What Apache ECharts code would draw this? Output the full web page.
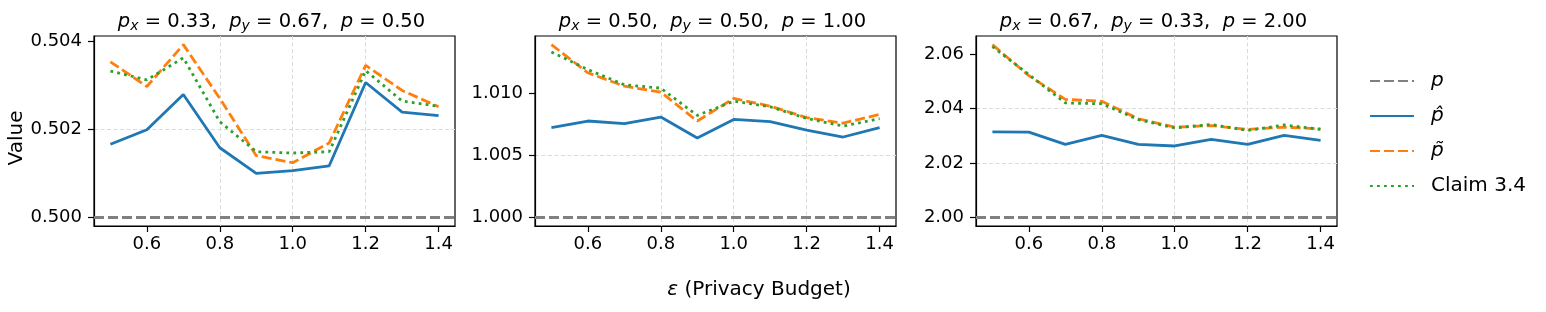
<!DOCTYPE html>
<html><head><meta charset="utf-8">
<script src="https://cdn.jsdelivr.net/npm/echarts@6/dist/echarts.min.js"></script>
<style>html,body{margin:0;padding:0;background:#fff}#c{width:1546px;height:312px}</style>
</head><body><div id="c"></div>
<script>
// ---- data ----
const epsilons = [0.5, 0.6, 0.7, 0.8, 0.9, 1.0, 1.1, 1.2, 1.3, 1.4];
const xTicks = [0.6, 0.8, 1.0, 1.2, 1.4];

const pxVals = ['0.33', '0.50', '0.67'];
const pyVals = ['0.67', '0.50', '0.33'];
const pTrue = [0.50, 1.00, 2.00];

const pHat1   = [0.50166, 0.50199, 0.50279, 0.50158, 0.50100, 0.50106, 0.50117, 0.50306, 0.50239, 0.50231];
const pTilde1 = [0.50353, 0.50297, 0.50392, 0.50270, 0.50140, 0.50124, 0.50169, 0.50345, 0.50288, 0.50251];
const claim1  = [0.50332, 0.50312, 0.50362, 0.50217, 0.50149, 0.50146, 0.50149, 0.50333, 0.50264, 0.50252];

const pHat2   = [1.00723, 1.00777, 1.00756, 1.00809, 1.00640, 1.00790, 1.00772, 1.00704, 1.00648, 1.00723];
const pTilde2 = [1.01393, 1.01166, 1.01058, 1.01010, 1.00777, 1.00959, 1.00897, 1.00804, 1.00760, 1.00830];
const claim2  = [1.01334, 1.01192, 1.01069, 1.01042, 1.00822, 1.00937, 1.00892, 1.00798, 1.00736, 1.00796];

const pHat3   = [2.0314, 2.0313, 2.0268, 2.0301, 2.0268, 2.0262, 2.0286, 2.0268, 2.0301, 2.0283];
const pTilde3 = [2.0634, 2.0520, 2.0433, 2.0426, 2.0362, 2.0331, 2.0337, 2.0323, 2.0331, 2.0325];
const claim3  = [2.0627, 2.0524, 2.0420, 2.0417, 2.0359, 2.0328, 2.0341, 2.0319, 2.0339, 2.0323];

const yTicks1 = [0.500, 0.502, 0.504];
const yTicks2 = [1.000, 1.005, 1.010];
const yTicks3 = [2.00, 2.02, 2.04, 2.06];
const yDecimals = [3, 3, 2];
const yIntervals = [0.002, 0.005, 0.02];

const seriesNames = ['p', 'p\u0302', 'p\u0303', 'Claim 3.4'];
// ---- end data ----

const FONT = 'DejaVu Sans';
const LW = 2.8;
const panels = [
  {hat: pHat1, tilde: pTilde1, claim: claim1, ticks: yTicks1},
  {hat: pHat2, tilde: pTilde2, claim: claim2, ticks: yTicks2},
  {hat: pHat3, tilde: pTilde3, claim: claim3, ticks: yTicks3}
];
const gridLefts = [94, 535, 976];
const gridW = 361, gridTop = 36, gridH = 190;

function pairs(arr) { return epsilons.map((e, i) => [e, arr[i]]); }
function extent(list) {
  let mn = Infinity, mx = -Infinity;
  list.forEach(a => a.forEach(v => { mn = Math.min(mn, v); mx = Math.max(mx, v); }));
  const r = mx - mn;
  return [mn - 0.05 * r, mx + 0.05 * r];
}
const xr = extent([epsilons]);

const grid = [], xAxis = [], yAxis = [], series = [], titles = [];
const gridLine = {show: true, showMinLine: false, showMaxLine: false, lineStyle: {color: '#dadada', width: 1, type: [4, 2.5]}};

panels.forEach((pn, k) => {
  grid.push({left: gridLefts[k], top: gridTop, width: gridW, height: gridH, show: true,
    borderColor: '#000', borderWidth: 1.2, backgroundColor: 'transparent'});
  xAxis.push({type: 'value', gridIndex: k, min: xr[0], max: xr[1], minInterval: 0.2, maxInterval: 0.2,
    axisLine: {show: true, onZero: false, lineStyle: {color: '#000', width: 1.2}},
    axisTick: {show: true, length: 6, customValues: xTicks, lineStyle: {color: '#000', width: 1.2}},
    axisLabel: {customValues: xTicks, formatter: v => v.toFixed(1), color: '#000', fontSize: 18, fontFamily: FONT, margin: 9},
    splitLine: gridLine});
  const yr = extent([pn.hat, pn.tilde, pn.claim, [pTrue[k]]]);
  yAxis.push({type: 'value', gridIndex: k, min: yr[0], max: yr[1],
    minInterval: yIntervals[k], maxInterval: yIntervals[k],
    axisLine: {show: true, onZero: false, lineStyle: {color: '#000', width: 1.2}},
    axisTick: {show: true, length: 6, customValues: pn.ticks, lineStyle: {color: '#000', width: 1.2}},
    axisLabel: {customValues: pn.ticks, formatter: v => v.toFixed(yDecimals[k]), color: '#000', fontSize: 18, fontFamily: FONT, margin: 12},
    splitLine: gridLine,
    name: k === 0 ? 'Value' : '', nameLocation: 'middle', nameGap: 66, nameRotate: 90,
    nameTextStyle: {fontSize: 20, fontFamily: FONT, color: '#000', padding: [0, 14, 0, 0]}});

  series.push({name: seriesNames[0], type: 'line', xAxisIndex: k, yAxisIndex: k, data: [], symbol: 'none',
    color: '#808080', lineStyle: {color: '#808080', width: LW, type: [10, 4]},
    markLine: {silent: true, symbol: ['none', 'none'], label: {show: false},
      lineStyle: {color: '#808080', width: LW, type: [10, 4]}, data: [{yAxis: pTrue[k]}]}});
  series.push({name: seriesNames[1], type: 'line', xAxisIndex: k, yAxisIndex: k, data: pairs(pn.hat), symbol: 'none',
    color: '#1f77b4', lineStyle: {color: '#1f77b4', width: LW}});
  series.push({name: seriesNames[2], type: 'line', xAxisIndex: k, yAxisIndex: k, data: pairs(pn.tilde), symbol: 'none',
    color: '#ff7f0e', lineStyle: {color: '#ff7f0e', width: LW, type: [10, 4]}});
  series.push({name: seriesNames[3], type: 'line', xAxisIndex: k, yAxisIndex: k, data: pairs(pn.claim), symbol: 'none',
    color: '#2ca02c', lineStyle: {color: '#2ca02c', width: LW, type: [2.8, 4.2]}});

  titles.push({
    text: '{i|p}{s|x}{n| = ' + pxVals[k] + ',  }{i|p}{s|y}{n| = ' + pyVals[k] + ',  }{i|p}{n| = ' + pTrue[k].toFixed(2) + '}',
    left: gridLefts[k] + gridW / 2 - 3, top: 11, textAlign: 'center', padding: 0,
    textStyle: {fontWeight: 'normal', rich: {
      i: {fontFamily: FONT, fontStyle: 'italic', fontWeight: 'normal', fontSize: 19.5, lineHeight: 22, color: '#000'},
      n: {fontFamily: FONT, fontWeight: 'normal', fontSize: 19.5, lineHeight: 22, color: '#000'},
      s: {fontFamily: FONT, fontStyle: 'italic', fontWeight: 'normal', fontSize: 14, lineHeight: 14, padding: [9, 0, 0, 0], color: '#000'}
    }}
  });
});

titles.push({
  text: '{i|\u03b5}{n| (Privacy Budget)}', left: 759, top: 279, textAlign: 'center', padding: 0,
  textStyle: {fontWeight: 'normal', rich: {
    i: {fontFamily: FONT, fontStyle: 'italic', fontWeight: 'normal', fontSize: 20, lineHeight: 22, color: '#000'},
    n: {fontFamily: FONT, fontWeight: 'normal', fontSize: 20, lineHeight: 22, color: '#000'}
  }}
});

const option = {
  animation: false,
  backgroundColor: '#fff',
  title: titles,
  grid, xAxis, yAxis, series,
  legend: {
    orient: 'vertical', left: 1369, top: 69, padding: 0, itemGap: 11,
    itemWidth: 44, itemHeight: 14,
    itemStyle: {opacity: 0, borderWidth: 0},
    data: seriesNames,
    formatter: n => n === 'Claim 3.4' ? '{n|' + n + '}' : '{i|' + n + '}',
    textStyle: {color: '#000', fontFamily: FONT, fontSize: 20, lineHeight: 24, rich: {
      i: {fontFamily: FONT, fontStyle: 'italic', fontSize: 20, lineHeight: 24, padding: [0, 0, 0, 12], color: '#000'},
      n: {fontFamily: FONT, fontSize: 20, lineHeight: 24, padding: [0, 0, 0, 12], color: '#000'}
    }}
  }
};
const chart = echarts.init(document.getElementById('c'), null, {renderer: 'canvas'});
chart.setOption(option);
</script></body></html>
